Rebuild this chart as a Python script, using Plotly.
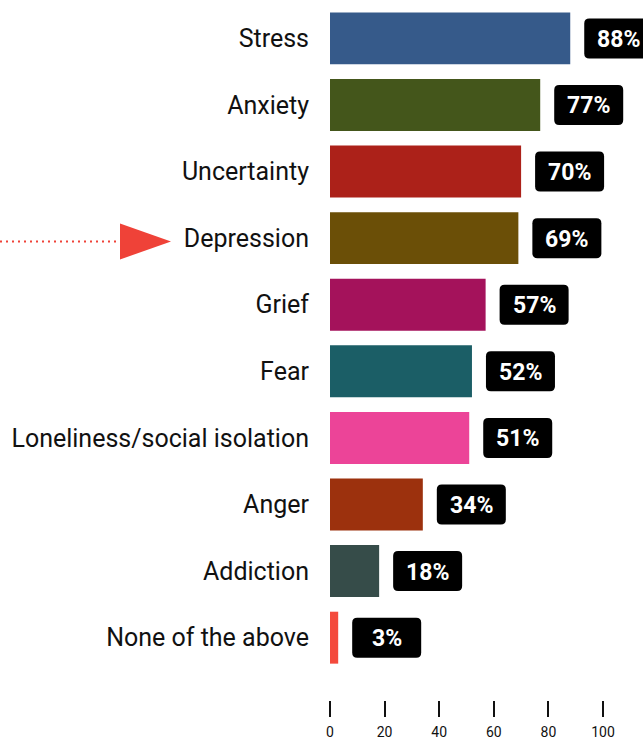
import plotly.graph_objects as go

# Survey responses: share of respondents naming each issue
categories = [
    "Stress", "Anxiety", "Uncertainty", "Depression", "Grief", "Fear",
    "Loneliness/social isolation", "Anger", "Addiction", "None of the above",
]
values = [88, 77, 70, 69, 57, 52, 51, 34, 18, 3]
bar_colors = [
    "#365a8a", "#44561b", "#ac2119", "#6b4f07", "#a4125b", "#1b5e66",
    "#ec4498", "#9c310d", "#364c49", "#f44a3c",
]
x_ticks = [0, 20, 40, 60, 80, 100]
highlight = "Depression"
arrow_color = "#ef4238"

FONT = "Roboto, Arial, sans-serif"

fig = go.Figure()
fig.add_trace(go.Bar(
    x=values,
    y=categories,
    orientation="h",
    width=0.78,
    marker=dict(color=bar_colors, line=dict(width=0)),
    hoverinfo="skip",
))

# Rounded black value badges placed just right of each bar end
box_left, box_right, half_h, rad = 14, 83, 20, 5
badge_path = (
    f"M {box_left + rad},{-half_h} L {box_right - rad},{-half_h} "
    f"Q {box_right},{-half_h} {box_right},{-half_h + rad} "
    f"L {box_right},{half_h - rad} Q {box_right},{half_h} {box_right - rad},{half_h} "
    f"L {box_left + rad},{half_h} Q {box_left},{half_h} {box_left},{half_h - rad} "
    f"L {box_left},{-half_h + rad} Q {box_left},{-half_h} {box_left + rad},{-half_h} Z"
)
shapes = []
annotations = []
for i, v in enumerate(values):
    shapes.append(dict(
        type="path", xref="x", yref="y",
        xsizemode="pixel", ysizemode="pixel",
        xanchor=v, yanchor=i, path=badge_path,
        fillcolor="black", line=dict(width=0), layer="above",
    ))
    annotations.append(dict(
        x=v, y=i, xref="x", yref="y",
        xshift=(box_left + box_right) / 2, yshift=-1, showarrow=False,
        text=f"{v}%", xanchor="center", yanchor="middle",
        font=dict(family=FONT, size=23, color="white", weight="bold"),
    ))

# Dotted pointer and arrowhead aimed at the highlighted category
hi = categories.index(highlight) + 0.05
shapes.append(dict(
    type="line", xref="paper", yref="y",
    xsizemode="pixel", ysizemode="pixel", xanchor=0, yanchor=hi,
    x0=-330, x1=-213, y0=0, y1=0,
    line=dict(color=arrow_color, width=2, dash="2px,4px"),
))
shapes.append(dict(
    type="path", xref="paper", yref="y",
    xsizemode="pixel", ysizemode="pixel", xanchor=0, yanchor=hi,
    path="M -210,-18 L -210,18 L -159,0 Z",
    fillcolor=arrow_color, line=dict(width=0),
))

fig.update_layout(
    width=643, height=740,
    margin=dict(l=330, r=0, t=0, b=38, pad=0),
    paper_bgcolor="white", plot_bgcolor="white",
    showlegend=False,
    font=dict(family=FONT, color="#111111"),
    shapes=shapes,
    annotations=annotations,
    xaxis=dict(
        range=[0, 114.65], tickvals=x_ticks, ticktext=[str(t) for t in x_ticks],
        ticks="outside", ticklen=16, tickwidth=2, tickcolor="#111111",
        showgrid=False, zeroline=False, showline=False,
        ticklabelstandoff=3,
        tickfont=dict(family=FONT, size=14, color="#111111"),
        fixedrange=True,
    ),
    yaxis=dict(
        type="category", categoryorder="array", categoryarray=categories,
        range=[9.936, -0.5765],
        ticks="", showgrid=False, zeroline=False, showline=False,
        ticklabelstandoff=20,
        tickfont=dict(family=FONT, size=25, color="#111111"),
        fixedrange=True,
    ),
)

fig.write_html("out.html", config={"displayModeBar": False})
